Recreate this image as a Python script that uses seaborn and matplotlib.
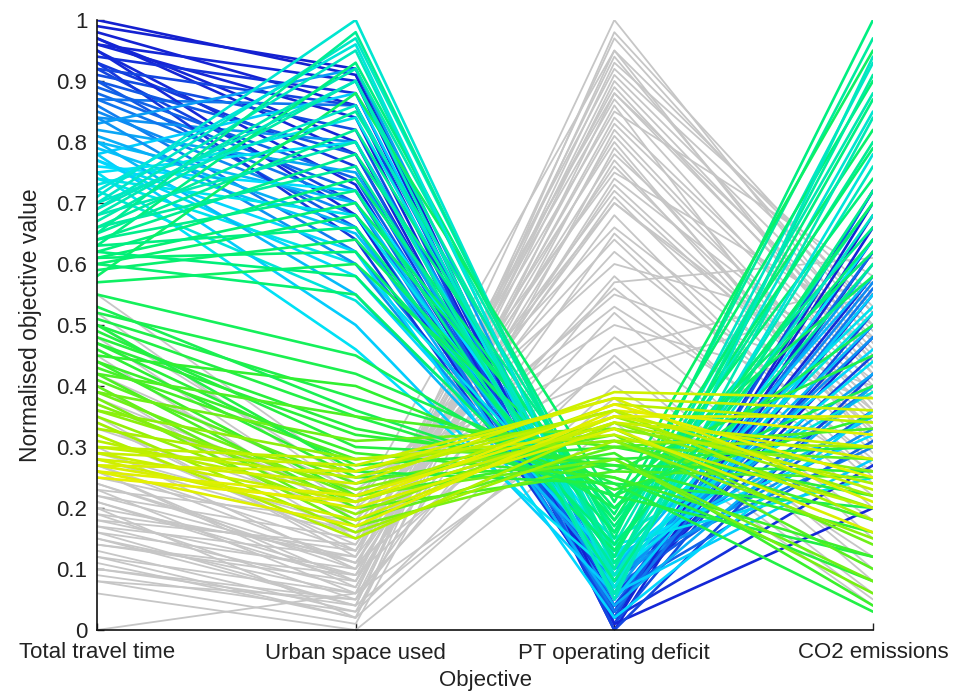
import numpy as np
import pandas as pd
import matplotlib
matplotlib.use("Agg")
import matplotlib.pyplot as plt
from matplotlib.colors import LinearSegmentedColormap, Normalize
import seaborn as sns

objectives = ["Total travel time", "Urban space used", "PT operating deficit", "CO2 emissions"]
y_ticks = [0, 0.1, 0.2, 0.3, 0.4, 0.5, 0.6, 0.7, 0.8, 0.9, 1]
y_tick_labels = ["0", "0.1", "0.2", "0.3", "0.4", "0.5", "0.6", "0.7", "0.8", "0.9", "1"]

# dominated solutions (grey)
gray_travel = [0.55, 0.52, 0.48, 0.45, 0.42, 0.40, 0.38, 0.35, 0.33, 0.32, 0.30, 0.29, 0.27, 0.26,
               0.25, 0.24, 0.23, 0.22, 0.21, 0.20, 0.19, 0.18, 0.17, 0.16, 0.15, 0.14, 0.13, 0.12,
               0.11, 0.10, 0.09, 0.08, 0.10, 0.12, 0.18, 0.22, 0.28, 0.00, 0.08, 0.20, 0.26, 0.34,
               0.15, 0.06, 0.50, 0.37, 0.24, 0.19, 0.21, 0.17, 0.23, 0.14, 0.27, 0.16]
gray_urban = [0.25, 0.22, 0.20, 0.18, 0.23, 0.15, 0.21, 0.12, 0.19, 0.14, 0.10, 0.17, 0.13, 0.08,
              0.16, 0.11, 0.06, 0.15, 0.09, 0.12, 0.05, 0.14, 0.07, 0.10, 0.04, 0.08, 0.03, 0.06,
              0.02, 0.05, 0.03, 0.01, 0.04, 0.02, 0.09, 0.11, 0.16, 0.06, 0.05, 0.02, 0.07, 0.13,
              0.06, 0.00, 0.24, 0.20, 0.10, 0.13, 0.08, 0.12, 0.18, 0.09, 0.11, 0.04]
gray_pt = [0.42, 0.60, 0.95, 0.75, 0.50, 0.88, 0.66, 0.92, 0.55, 0.80, 1.00, 0.70, 0.85, 0.94,
           0.62, 0.78, 0.97, 0.72, 0.83, 0.68, 0.90, 0.76, 0.86, 0.58, 0.93, 0.74, 0.82, 0.52,
           0.88, 0.65, 0.45, 0.79, 0.38, 0.40, 0.48, 0.44, 0.56, 0.36, 0.57, 0.98, 0.84, 0.70,
           0.91, 0.34, 0.46, 0.53, 0.73, 0.87, 0.77, 0.89, 0.64, 0.81, 0.71, 0.95]
gray_co2 = [0.55, 0.48, 0.42, 0.50, 0.38, 0.45, 0.33, 0.52, 0.40, 0.30, 0.47, 0.36, 0.58, 0.44,
            0.28, 0.39, 0.50, 0.33, 0.42, 0.25, 0.46, 0.35, 0.30, 0.20, 0.55, 0.41, 0.37, 0.15,
            0.48, 0.27, 0.10, 0.32, 0.06, 0.12, 0.18, 0.08, 0.22, 0.05, 0.61, 0.52, 0.43, 0.38,
            0.49, 0.04, 0.57, 0.26, 0.34, 0.40, 0.31, 0.44, 0.24, 0.36, 0.29, 0.53]

# non-dominated solutions (coloured by total travel time)
pareto_travel = [1.00, 0.98, 0.97, 0.97, 0.96, 0.95, 0.94, 0.93, 0.92, 0.91, 0.90, 0.88, 0.87, 0.86,
                 0.85, 0.84, 0.99, 0.96, 0.95, 0.93, 0.92, 0.90, 0.89, 0.87,
                 0.83, 0.82, 0.80, 0.79, 0.78, 0.77, 0.76, 0.75, 0.74, 0.73, 0.72,
                 0.84, 0.81, 0.80, 0.78, 0.77, 0.75, 0.74,
                 0.71, 0.70, 0.69, 0.68, 0.67, 0.66, 0.65, 0.64, 0.63, 0.62, 0.61, 0.60, 0.59, 0.58, 0.57,
                 0.72, 0.70, 0.68, 0.66, 0.64, 0.63, 0.62, 0.61, 0.60, 0.65, 0.69,
                 0.52, 0.51, 0.50, 0.49, 0.48, 0.47, 0.46, 0.45, 0.44, 0.43, 0.42, 0.41, 0.40, 0.39, 0.38, 0.37,
                 0.55, 0.53, 0.50, 0.47, 0.44, 0.42, 0.39, 0.36,
                 0.36, 0.35, 0.34, 0.33, 0.32, 0.31, 0.30, 0.29, 0.28, 0.28, 0.27, 0.26, 0.25,
                 0.30, 0.29, 0.27, 0.26]
pareto_urban = [0.91, 0.86, 0.80, 0.78, 0.84, 0.73, 0.88, 0.76, 0.70, 0.82, 0.66, 0.72, 0.86, 0.62,
                0.68, 0.80, 0.92, 0.90, 0.68, 0.64, 0.86, 0.78, 0.74, 0.70,
                0.92, 0.75, 0.70, 0.65, 0.88, 0.58, 0.72, 0.80, 0.60, 0.84, 0.54,
                0.60, 0.66, 0.55, 0.50, 0.62, 0.46, 0.68,
                1.00, 0.97, 0.95, 0.92, 0.90, 0.85, 0.82, 0.78, 0.93, 0.74, 0.70, 0.68, 0.64, 0.88, 0.60,
                0.96, 0.86, 0.80, 0.76, 0.72, 0.66, 0.58, 0.62, 0.55, 0.98, 0.90,
                0.42, 0.38, 0.35, 0.30, 0.33, 0.27, 0.25, 0.40, 0.22, 0.28, 0.20, 0.24, 0.18, 0.31, 0.17, 0.21,
                0.45, 0.36, 0.26, 0.32, 0.29, 0.35, 0.22, 0.28,
                0.23, 0.19, 0.16, 0.26, 0.15, 0.22, 0.28, 0.27, 0.18, 0.24, 0.20, 0.17, 0.21,
                0.25, 0.21, 0.26, 0.22]
pareto_pt = [0.03, 0.02, 0.01, 0.04, 0.00, 0.05, 0.02, 0.03, 0.06, 0.01, 0.07, 0.04, 0.08, 0.10,
             0.05, 0.09, 0.02, 0.01, 0.03, 0.04, 0.00, 0.02, 0.06, 0.03,
             0.06, 0.10, 0.08, 0.12, 0.05, 0.11, 0.13, 0.07, 0.14, 0.09, 0.15,
             0.08, 0.04, 0.10, 0.06, 0.02, 0.09, 0.12,
             0.10, 0.12, 0.08, 0.14, 0.11, 0.16, 0.13, 0.18, 0.15, 0.17, 0.19, 0.20, 0.18, 0.21, 0.22,
             0.07, 0.09, 0.06, 0.10, 0.08, 0.12, 0.14, 0.16, 0.13, 0.11, 0.05,
             0.24, 0.26, 0.22, 0.28, 0.25, 0.30, 0.27, 0.23, 0.29, 0.31, 0.26, 0.32, 0.30, 0.33, 0.28, 0.34,
             0.20, 0.22, 0.24, 0.27, 0.25, 0.30, 0.28, 0.31,
             0.33, 0.35, 0.31, 0.36, 0.34, 0.37, 0.32, 0.38, 0.35, 0.39, 0.33, 0.36, 0.37,
             0.36, 0.34, 0.38, 0.35]
pareto_co2 = [0.55, 0.62, 0.70, 0.48, 0.66, 0.58, 0.27, 0.72, 0.45, 0.52, 0.36, 0.62, 0.40, 0.30,
              0.57, 0.33, 0.68, 0.20, 0.64, 0.50, 0.42, 0.72, 0.31, 0.56,
              0.60, 0.42, 0.50, 0.35, 0.55, 0.46, 0.32, 0.64, 0.25, 0.52, 0.39,
              0.48, 0.40, 0.58, 0.28, 0.36, 0.44, 0.53,
              0.85, 0.93, 0.76, 0.88, 0.70, 0.97, 0.80, 0.66, 1.00, 0.74, 0.90, 0.62, 0.82, 0.95, 0.58,
              0.78, 0.68, 0.84, 0.91, 0.72, 0.87, 0.64, 0.79, 0.70, 0.60, 0.94,
              0.20, 0.45, 0.12, 0.30, 0.08, 0.22, 0.16, 0.35, 0.04, 0.18, 0.25, 0.10, 0.28, 0.14, 0.06, 0.20,
              0.50, 0.40, 0.03, 0.26, 0.12, 0.33, 0.08, 0.15,
              0.26, 0.22, 0.30, 0.18, 0.24, 0.34, 0.20, 0.36, 0.28, 0.38, 0.16, 0.32, 0.25,
              0.23, 0.30, 0.21, 0.35]


def long_form(series_list, prefix):
    rows = []
    for i, vals in enumerate(zip(*series_list)):
        for j, v in enumerate(vals):
            rows.append({"id": f"{prefix}{i}", "pos": j, "value": v})
    return pd.DataFrame(rows)


gray_df = long_form([gray_travel, gray_urban, gray_pt, gray_co2], "g")
par_df = long_form([pareto_travel, pareto_urban, pareto_pt, pareto_co2], "p")

sns.set_style("ticks")
plt.rcParams["font.family"] = ["Liberation Sans", "DejaVu Sans"]

norm = Normalize(0.25, 1.0)
cmap = LinearSegmentedColormap.from_list(
    "tt", [(norm(0.25), "#e6f000"), (norm(0.33), "#a8f000"), (norm(0.45), "#30f030"),
           (norm(0.62), "#00f078"), (norm(0.76), "#00e0ff"), (norm(0.86), "#1080f0"),
           (norm(0.95), "#1428d8"), (norm(1.0), "#1420d0")])
par_ids = [f"p{i}" for i in range(len(pareto_travel))]
par_palette = {pid: cmap(norm(t)) for pid, t in zip(par_ids, pareto_travel)}

fig = plt.figure(figsize=(9.57, 6.97), dpi=100)
ax = fig.add_axes([97 / 957, 67 / 697, 776 / 957, 610 / 697])

sns.lineplot(data=gray_df, x="pos", y="value", units="id", estimator=None,
             color="#c6c6c6", linewidth=1.3, ax=ax, legend=False, sort=False)
sns.lineplot(data=par_df, x="pos", y="value", hue="id", hue_order=par_ids,
             palette=par_palette, estimator=None, linewidth=1.9,
             ax=ax, legend=False, sort=False)

ax.set_xlim(0, len(objectives) - 1)
ax.set_ylim(0, 1)
ax.set_xticks(range(len(objectives)))
ax.set_xticklabels(objectives, fontsize=16, color="#222222")
ax.set_yticks(y_ticks)
ax.set_yticklabels(y_tick_labels, fontsize=16, color="#222222")
ax.tick_params(direction="in", length=5, width=1, colors="#222222")
ax.tick_params(axis="x", pad=9)
ax.tick_params(axis="y", pad=7)
ax.set_xlabel("Objective", fontsize=16, labelpad=5, color="#222222")
ax.set_ylabel("Normalised objective value", fontsize=16.5, labelpad=10, color="#222222")
for s in ["top", "right"]:
    ax.spines[s].set_visible(False)
for s in ["left", "bottom"]:
    ax.spines[s].set_linewidth(1.2)
    ax.spines[s].set_color("#111111")

fig.savefig("out.png", dpi=100)
